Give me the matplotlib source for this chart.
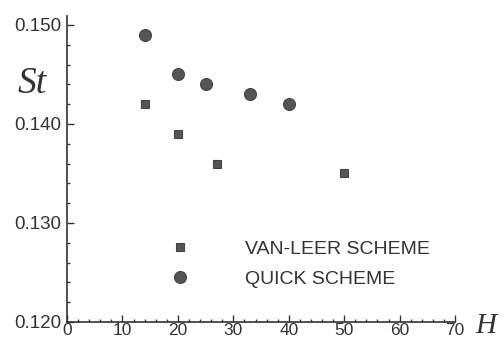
import matplotlib
matplotlib.use("Agg")
import matplotlib.pyplot as plt
from matplotlib.ticker import MultipleLocator, FormatStrFormatter

# Strouhal number vs. H for the two convection schemes
h_vanleer = [14, 20, 27, 50]
st_vanleer = [0.142, 0.139, 0.136, 0.135]

h_quick = [14, 20, 25, 33, 40]
st_quick = [0.149, 0.145, 0.144, 0.143, 0.142]

INK = "#333333"
MARK = "#555555"

plt.rcParams["font.family"] = ["Liberation Sans", "DejaVu Sans"]

fig = plt.figure(figsize=(5.04, 3.40), dpi=100)
ax = fig.add_axes([0.133, 0.053, 0.770, 0.900])

ax.plot(h_vanleer, st_vanleer, ls="none", marker="s", ms=5.8,
        mfc=MARK, mec="#444444", mew=0.8, label="VAN-LEER SCHEME")
ax.plot(h_quick, st_quick, ls="none", marker="o", ms=8.6,
        mfc=MARK, mec="#444444", mew=0.8, label="QUICK SCHEME")

ax.set_xlim(0, 70)
ax.set_ylim(0.120, 0.1509)

ax.xaxis.set_major_locator(MultipleLocator(10))
ax.xaxis.set_minor_locator(MultipleLocator(2))
ax.yaxis.set_major_locator(MultipleLocator(0.01))
ax.yaxis.set_minor_locator(MultipleLocator(0.002))
ax.yaxis.set_major_formatter(FormatStrFormatter("%.3f"))

for side in ("top", "right"):
    ax.spines[side].set_visible(False)
for side in ("left", "bottom"):
    ax.spines[side].set_color(INK)
    ax.spines[side].set_linewidth(1.2)

ax.tick_params(which="both", direction="in", color=INK, labelcolor=INK,
               width=1.0)
ax.tick_params(which="major", length=5)
ax.tick_params(which="minor", length=2.5)
ax.tick_params(axis="x", pad=1, labelsize=12.5)
ax.tick_params(axis="y", pad=4, labelsize=13.5)

# axis symbols in italic serif
ax.text(-0.090, 0.78, "St", transform=ax.transAxes, ha="center", va="center",
        fontsize=27, style="italic", family="Liberation Serif", color=INK)
ax.text(1.08, -0.035, "H", transform=ax.transAxes, ha="center",
        va="baseline", fontsize=21, style="italic",
        family="Liberation Serif", color=INK, clip_on=False)

leg = ax.legend(loc="center left", bbox_to_anchor=(0.266, 0.189),
                frameon=False, fontsize=14, borderpad=0, borderaxespad=0,
                handlelength=1.0, handletextpad=2.85, labelspacing=0.65,
                numpoints=1)
for t in leg.get_texts():
    t.set_color(INK)

fig.savefig("out.png", dpi=100)
